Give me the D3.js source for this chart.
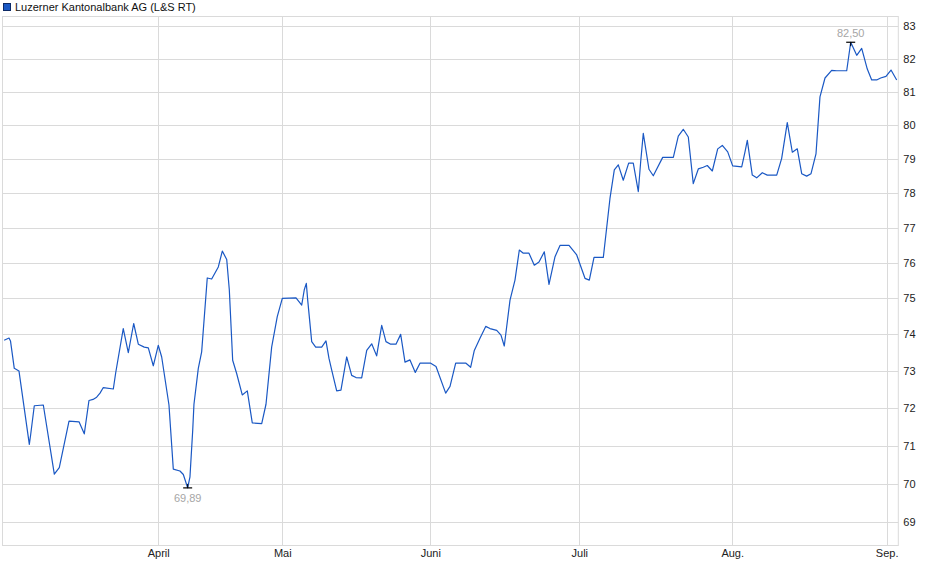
<!DOCTYPE html>
<html><head><meta charset="utf-8">
<script src="https://cdn.jsdelivr.net/npm/d3@7"></script>
<style>
html,body{margin:0;padding:0;background:#fff;}
svg{display:block;font-family:"Liberation Sans",Arial,sans-serif;}
</style></head>
<body><svg id="c" width="940" height="579"></svg>
<script>
// x values are trading-day numbers since the start of the period
const days = [0.0,0.69,0.9,1.44,2.11,3.59,3.79,4.3,5.59,7.16,7.87,9.26,10.69,11.44,12.11,12.69,13.21,13.69,
14.16,15.59,15.93,17.01,17.73,18.5,19.16,20.01,20.59,21.3,22.01,22.5,23.54,24.16,25.11,25.59,26.21,26.54,
26.93,27.11,27.73,28.21,29.01,29.64,30.59,31.16,31.79,32.16,32.64,33.21,34.01,34.73,35.44,36.79,37.4,38.21,39.01,39.73,
41.69,42.5,42.87,43.16,43.36,43.93,44.5,45.36,45.97,46.4,46.79,47.5,48.11,48.93,49.64,50.26,51.07,51.79,52.5,53.21,53.93,
54.54,55.21,55.97,56.64,57.26,57.97,58.73,59.4,60.93,61.69,63.07,63.69,64.5,65.97,66.64,67.16,67.97,
68.79,69.4,70.36,70.97,71.44,72.26,72.97,73.59,74.16,74.97,75.73,76.4,77.16,77.83,78.69,79.4,80.69,
81.79,82.97,83.59,84.26,85.59,86.54,87.16,87.73,88.44,89.21,89.87,90.59,90.93,91.3,92.11,92.73,94.07,95.59,
96.3,97.01,97.73,98.44,99.16,99.87,100.44,101.16,101.93,102.59,103.36,104.07,105.36,105.83,106.16,106.87,107.5,108.3,109.01,110.36,
111.07,111.87,112.59,113.3,113.93,114.64,115.26,115.97,116.54,117.26,118.21,118.93,120.36,120.93,121.79,122.5,123.3,123.93,124.64,125.21,125.97,126.69,127.5];
const prices = [73.84,73.9,73.82,73.07,73.0,71.03,71.3,72.06,72.08,70.25,70.42,71.65,71.63,71.31,72.2,72.23,72.29,72.4,
72.55,72.51,72.95,74.16,73.5,74.3,73.73,73.65,73.63,73.14,73.7,73.38,72.08,70.38,70.33,70.24,69.89,70.18,
71.4,72.1,73.07,73.52,75.57,75.54,75.88,76.33,76.09,75.24,73.29,72.93,72.35,72.46,71.6,71.58,72.1,73.65,74.49,75.0,
75.01,74.81,75.24,75.42,74.95,73.8,73.65,73.65,73.82,73.34,73.02,72.46,72.48,73.38,72.88,72.82,72.81,73.56,73.74,73.41,74.25,
73.8,73.73,73.73,74.0,73.24,73.3,72.96,73.21,73.21,73.12,72.4,72.58,73.21,73.21,73.1,73.56,73.89,
74.22,74.16,74.11,73.98,73.68,74.95,75.51,76.36,76.27,76.27,75.93,76.02,76.31,75.39,76.17,76.49,76.49,
76.22,75.56,75.51,76.15,76.15,77.84,78.67,78.82,78.37,78.87,78.87,78.04,78.92,79.75,78.69,78.5,79.04,79.04,
79.67,79.87,79.64,78.27,78.7,78.75,78.8,78.64,79.29,79.39,79.2,78.79,78.76,79.2,79.54,78.52,78.44,78.59,78.52,78.52,
79.01,80.07,79.19,79.29,78.56,78.49,78.56,79.14,80.84,81.41,81.64,81.63,81.63,82.5,82.1,82.31,81.68,81.35,81.35,81.41,81.46,81.65,81.35];
const monthLabels = ["April","Mai","Juni","Juli","Aug.","Sep."];
const monthDays = [22.0,39.73,60.87,82.16,104.0,126.07];
const yTicks = [69,70,71,72,73,74,75,76,77,78,79,80,81,82,83];
const seriesName = "Luzerner Kantonalbank AG (L&S RT)";
const minLabel = "69,89", maxLabel = "82,50";

const svg = d3.select("#c");
const L = 3, R = 898.3, T = 16, B = 545;
const x = d3.scaleLinear().domain([-0.17, 127.73]).range([L, R]);
const y = d3.scaleLog().domain([68.42, 83.31]).range([B, T]);
const grid = "#dadada";

// grid
svg.append("g").selectAll("line").data(yTicks).join("line")
  .attr("x1", L).attr("x2", R).attr("y1", d => Math.round(y(d)) + 0.5).attr("y2", d => Math.round(y(d)) + 0.5)
  .attr("stroke", grid).attr("stroke-width", 1);
svg.append("g").selectAll("line").data(monthDays).join("line")
  .attr("y1", T).attr("y2", B).attr("x1", d => Math.round(x(d)) + 0.5).attr("x2", d => Math.round(x(d)) + 0.5)
  .attr("stroke", grid).attr("stroke-width", 1);
svg.append("rect").attr("x", L - 0.5).attr("y", T + 0.5).attr("width", R - L + 0.5).attr("height", B - T)
  .attr("fill", "none").attr("stroke", grid).attr("stroke-width", 1);

// axes labels
const yAxis = d3.axisRight(y).tickValues(yTicks).tickFormat(d3.format("d")).tickSize(0).tickPadding(5);
const ga = svg.append("g").attr("transform", `translate(${R},0)`).call(yAxis);
ga.select(".domain").remove();
ga.selectAll("text").attr("font-size", 11).attr("fill", "#222").attr("font-family", "Liberation Sans, Arial, sans-serif");

const xAxis = d3.axisBottom(x).tickValues(monthDays).tickFormat((d, i) => monthLabels[i]).tickSize(0).tickPadding(4);
const gx = svg.append("g").attr("transform", `translate(0,${B})`).call(xAxis);
gx.select(".domain").remove();
gx.selectAll("text").attr("font-size", 11).attr("fill", "#222").attr("font-family", "Liberation Sans, Arial, sans-serif");

// line
const pts = days.map((d, i) => [d, prices[i]]);
svg.append("path").datum(pts)
  .attr("fill", "none").attr("stroke", "#1a58c4").attr("stroke-width", 1.2).attr("stroke-linejoin", "round")
  .attr("d", d3.line().x(d => x(d[0])).y(d => y(d[1])));

// min / max markers
const iMin = d3.minIndex(prices), iMax = d3.maxIndex(prices);
function marker(i, isMax, label) {
  const cx = x(days[i]), cy = y(prices[i]);
  const g = svg.append("g");
  g.append("line").attr("x1", cx - 4.5).attr("x2", cx + 4.5).attr("y1", cy).attr("y2", cy).attr("stroke", "#000").attr("stroke-width", 1.2);
  g.append("line").attr("x1", cx).attr("x2", cx).attr("y1", cy).attr("y2", isMax ? cy + 4 : cy - 4).attr("stroke", "#000").attr("stroke-width", 1);
  g.append("text").attr("x", cx).attr("y", isMax ? cy - 5 : cy + 14).attr("text-anchor", "middle")
    .attr("font-size", 11).attr("fill", "#a6a6a6").text(label);
}
marker(iMin, false, minLabel);
marker(iMax, true, maxLabel);

// legend
svg.append("rect").attr("x", 3.5).attr("y", 3.5).attr("width", 7).attr("height", 7)
  .attr("fill", "#1a58c4").attr("stroke", "#0d2a66").attr("stroke-width", 1);
svg.append("text").attr("x", 15).attr("y", 11).attr("font-size", 11).attr("fill", "#111").text(seriesName);
</script></body></html>
